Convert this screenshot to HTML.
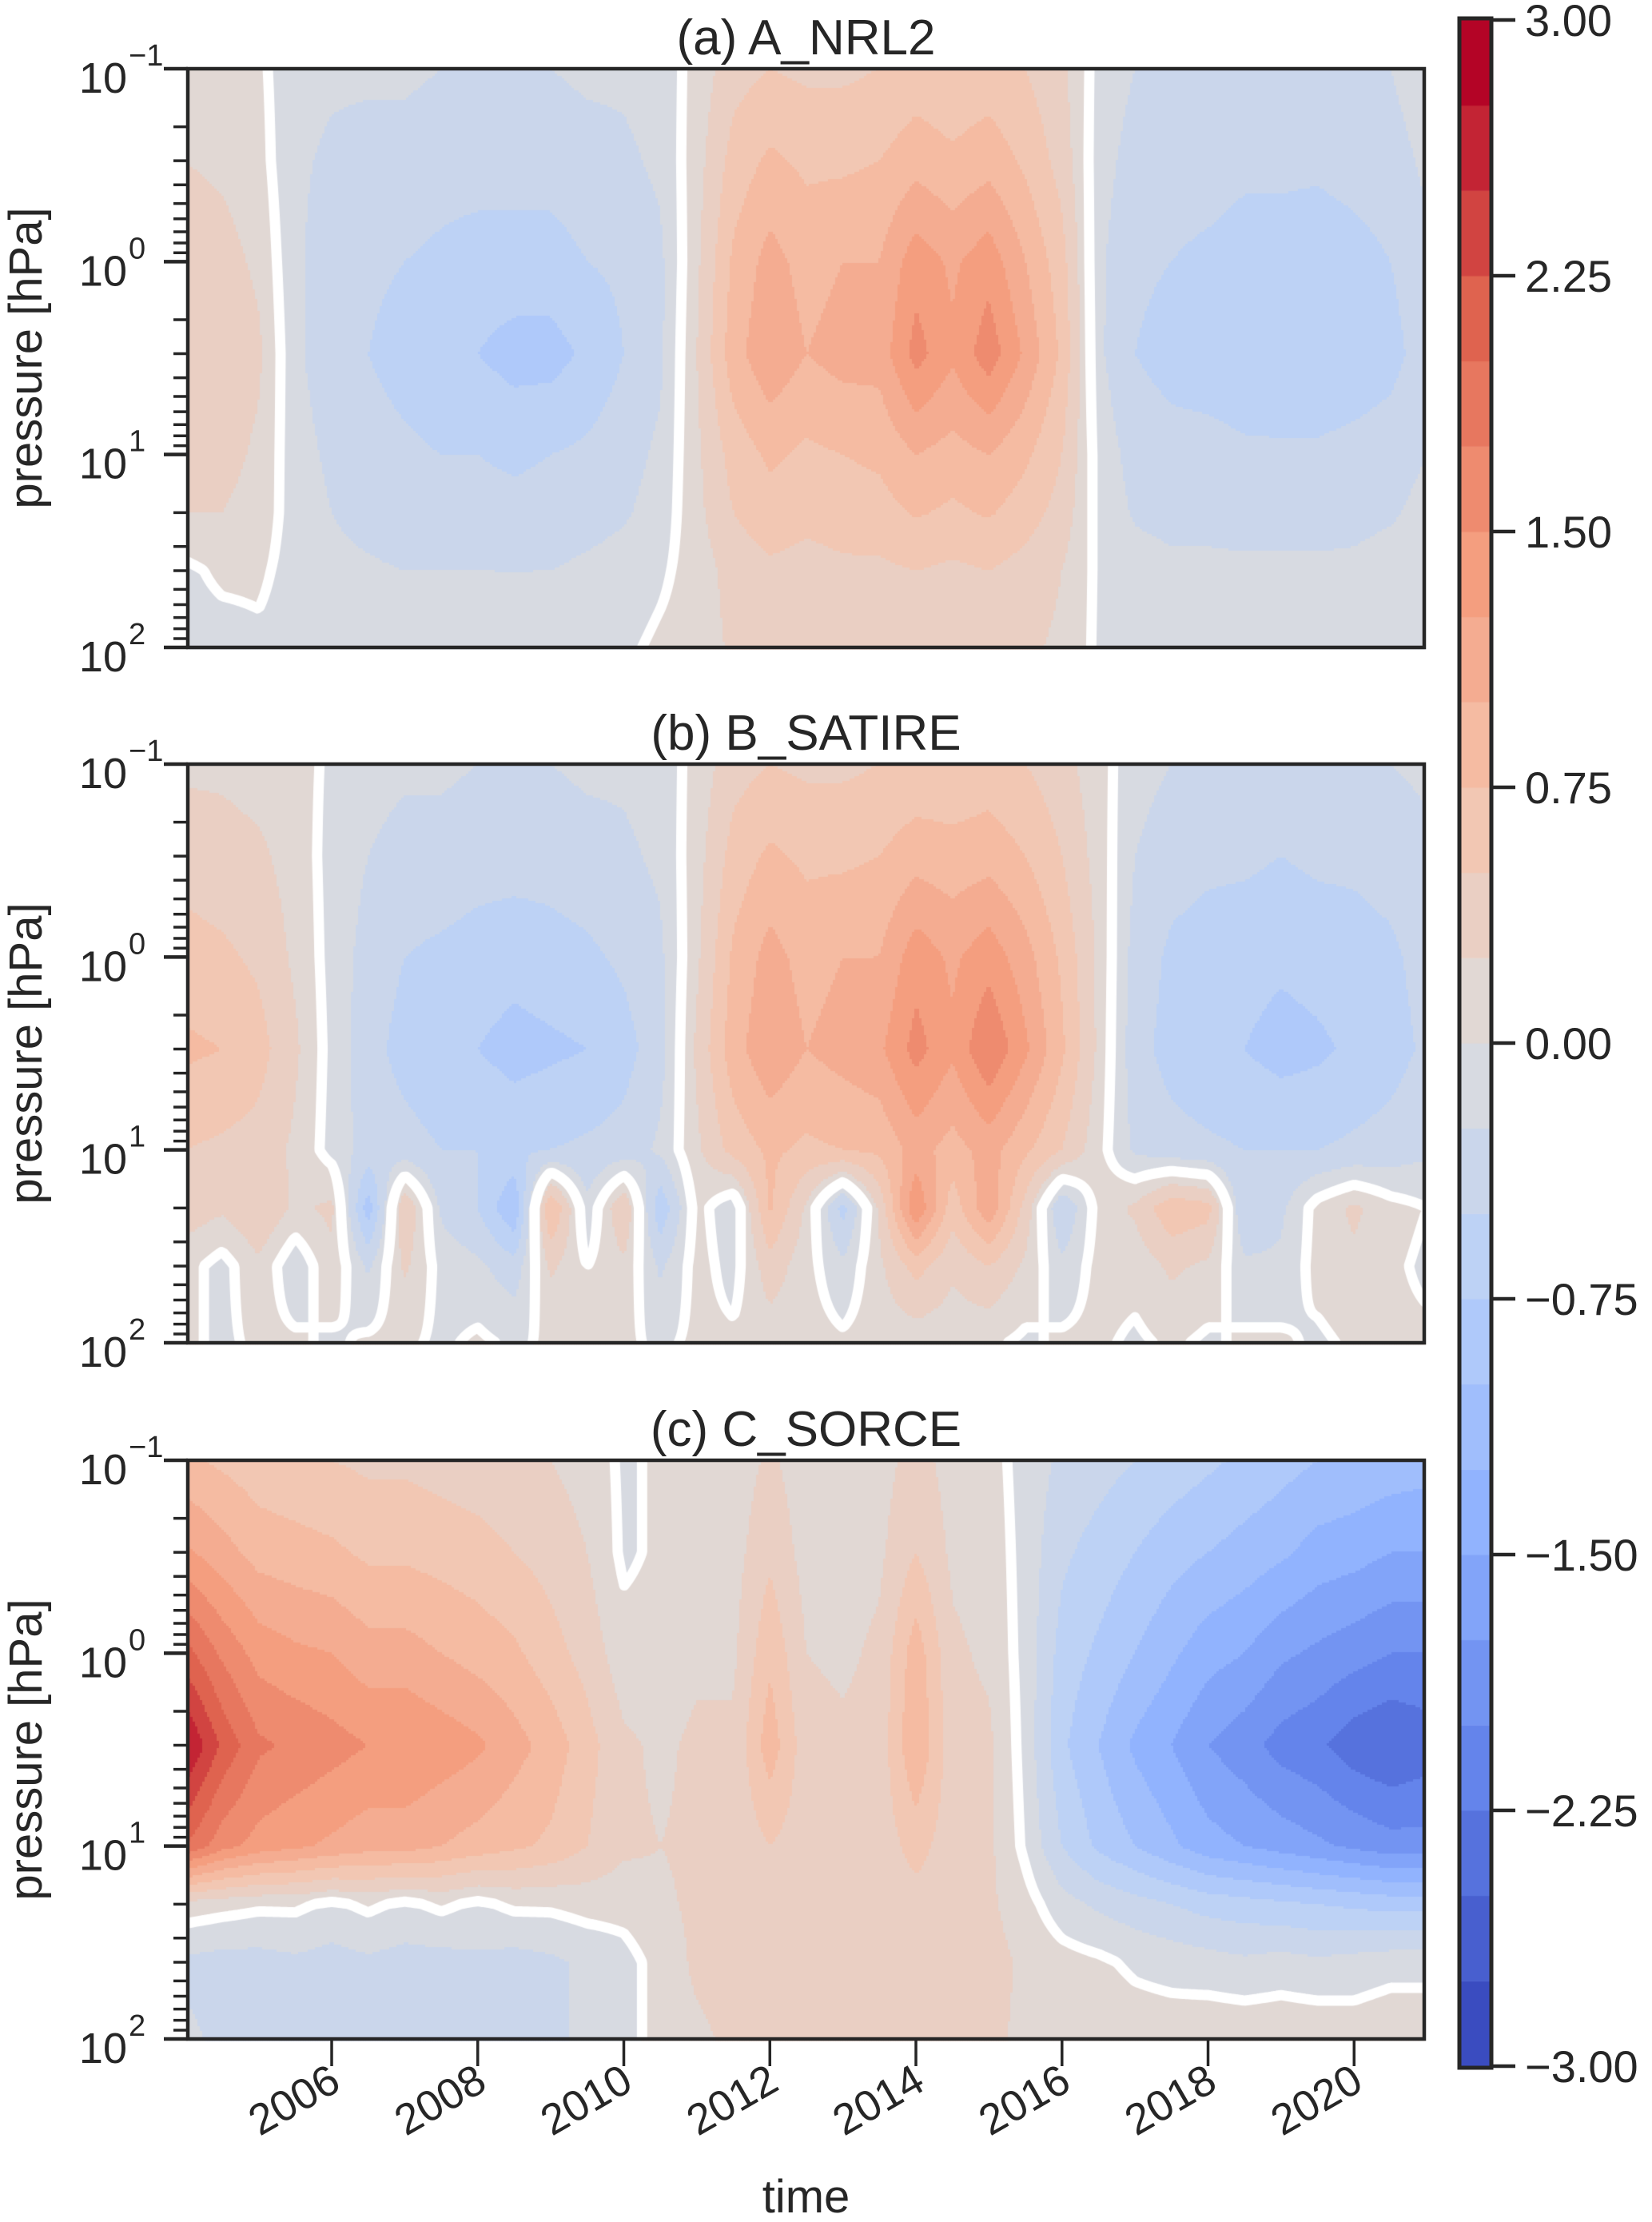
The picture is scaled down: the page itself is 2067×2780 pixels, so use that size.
<!DOCTYPE html>
<html><head><meta charset="utf-8">
<style>
html,body{margin:0;padding:0;background:#fff;}
#root{position:relative;width:2067px;height:2780px;overflow:hidden;font-family:"Liberation Sans",sans-serif;color:#262626;}
canvas{position:absolute;left:0;top:0;}
svg{position:absolute;left:0;top:0;}
</style></head>
<body>
<div id="root">
<canvas id="cv" width="2067" height="2780"></canvas>
<svg id="sv" width="2067" height="2780"></svg>
</div>
<script>
// ---- data ----
const times = [2004.0,2004.5,2005.0,2005.5,2006.0,2006.5,2007.0,2007.5,2008.0,2008.5,2009.0,2009.5,2010.0,2010.5,2011.0,2011.5,2012.0,2012.5,2013.0,2013.5,2014.0,2014.5,2015.0,2015.5,2016.0,2016.5,2017.0,2017.5,2018.0,2018.5,2019.0,2019.5,2020.0,2020.5,2021.0];
const pressures = [0.1,0.3,1,3,10,20,40,100];
const panelTitles = ["(a) A_NRL2","(b) B_SATIRE","(c) C_SORCE"];
const yearTicks = [2006,2008,2010,2012,2014,2016,2018,2020];
const cbarTicks = [3.00,2.25,1.50,0.75,0.00,-0.75,-1.50,-2.25,-3.00];
const levelMin = -3, levelMax = 3, levelStep = 0.25;

const fieldA = [
[0.15,0.12,0.05,-0.15,-0.2,-0.2,-0.2,-0.25,-0.25,-0.25,-0.25,-0.2,-0.2,-0.15,0.1,0.4,0.5,0.45,0.45,0.5,0.6,0.55,0.6,0.5,0.3,-0.1,-0.25,-0.3,-0.3,-0.3,-0.3,-0.3,-0.3,-0.25,-0.1],
[0.25,0.2,0.1,-0.2,-0.3,-0.35,-0.35,-0.4,-0.4,-0.4,-0.4,-0.35,-0.3,-0.2,0.15,0.6,0.8,0.7,0.7,0.75,0.9,0.8,0.9,0.7,0.4,-0.15,-0.35,-0.4,-0.4,-0.45,-0.45,-0.45,-0.4,-0.35,-0.2],
[0.4,0.35,0.2,-0.2,-0.4,-0.45,-0.5,-0.55,-0.6,-0.6,-0.6,-0.5,-0.45,-0.3,0.2,0.8,1.1,0.9,1.0,1.0,1.4,1.2,1.4,1.0,0.6,-0.2,-0.45,-0.5,-0.55,-0.6,-0.6,-0.65,-0.6,-0.5,-0.3],
[0.5,0.45,0.3,-0.2,-0.4,-0.5,-0.6,-0.7,-0.75,-0.85,-0.85,-0.7,-0.5,-0.3,0.25,0.9,1.2,1.0,1.1,1.1,1.6,1.3,1.65,1.2,0.7,-0.2,-0.5,-0.6,-0.65,-0.7,-0.75,-0.75,-0.7,-0.6,-0.35],
[0.4,0.35,0.2,-0.15,-0.3,-0.4,-0.45,-0.5,-0.5,-0.55,-0.5,-0.45,-0.35,-0.2,0.2,0.6,0.8,0.7,0.75,0.8,1.0,0.9,1.0,0.8,0.5,-0.1,-0.35,-0.4,-0.4,-0.45,-0.45,-0.45,-0.4,-0.35,-0.25],
[0.25,0.25,0.15,-0.12,-0.25,-0.32,-0.38,-0.4,-0.4,-0.42,-0.4,-0.35,-0.28,-0.15,0.18,0.5,0.65,0.58,0.62,0.65,0.78,0.7,0.78,0.62,0.4,-0.08,-0.28,-0.32,-0.32,-0.35,-0.35,-0.35,-0.32,-0.28,-0.18],
[-0.05,0.05,0.05,-0.1,-0.2,-0.22,-0.25,-0.25,-0.25,-0.25,-0.25,-0.2,-0.15,-0.05,0.12,0.35,0.45,0.4,0.45,0.45,0.5,0.45,0.5,0.4,0.25,-0.05,-0.15,-0.2,-0.2,-0.2,-0.2,-0.2,-0.2,-0.15,-0.1],
[-0.1,-0.1,-0.05,-0.1,-0.15,-0.15,-0.15,-0.15,-0.15,-0.15,-0.15,-0.1,-0.05,0.05,0.1,0.3,0.35,0.3,0.35,0.35,0.4,0.35,0.35,0.3,0.2,-0.05,-0.1,-0.1,-0.1,-0.1,-0.1,-0.1,-0.1,-0.1,-0.05]
];
const fieldB = [
[0.2,0.2,0.15,0.1,-0.05,-0.15,-0.2,-0.2,-0.25,-0.25,-0.25,-0.2,-0.2,-0.15,0.1,0.4,0.5,0.45,0.45,0.5,0.55,0.55,0.6,0.5,0.35,0.1,-0.15,-0.25,-0.3,-0.3,-0.3,-0.3,-0.3,-0.25,-0.2],
[0.4,0.35,0.3,0.15,-0.1,-0.25,-0.35,-0.35,-0.4,-0.4,-0.4,-0.35,-0.3,-0.2,0.15,0.6,0.8,0.7,0.7,0.75,0.9,0.85,0.9,0.75,0.5,0.15,-0.25,-0.4,-0.45,-0.45,-0.5,-0.45,-0.45,-0.4,-0.3],
[0.6,0.55,0.45,0.2,-0.1,-0.35,-0.5,-0.55,-0.6,-0.65,-0.6,-0.55,-0.45,-0.3,0.2,0.8,1.1,0.9,1.0,1.0,1.4,1.2,1.4,1.1,0.7,0.2,-0.35,-0.55,-0.6,-0.65,-0.7,-0.65,-0.6,-0.55,-0.4],
[0.8,0.75,0.6,0.3,-0.1,-0.4,-0.6,-0.7,-0.75,-0.85,-0.8,-0.75,-0.6,-0.35,0.3,0.9,1.2,1.0,1.1,1.2,1.6,1.3,1.75,1.3,0.8,0.2,-0.4,-0.6,-0.7,-0.75,-0.85,-0.8,-0.7,-0.6,-0.45],
[0.5,0.45,0.4,0.2,-0.1,-0.35,-0.4,-0.5,-0.5,-0.55,-0.5,-0.45,-0.4,-0.2,0.2,0.6,0.8,0.7,0.75,0.8,1.1,0.9,1.1,0.8,0.5,0.1,-0.3,-0.4,-0.45,-0.5,-0.5,-0.5,-0.45,-0.4,-0.3],
[0.4,0.3,0.5,0.2,0.3,-0.9,0.5,-0.3,-0.5,-1.0,0.8,-0.2,0.5,-0.7,0.1,-0.2,0.8,0.2,-0.6,0.3,1.5,0.6,1.2,0.4,-0.5,0.1,0.3,0.7,0.6,-0.5,-0.3,0.1,0.3,0.1,0.0],
[0.1,-0.1,0.2,-0.2,0.2,-0.3,0.3,-0.1,-0.2,-0.4,0.3,0.0,0.2,-0.3,0.1,-0.1,0.4,0.1,-0.2,0.2,0.6,0.3,0.5,0.2,-0.2,0.1,0.1,0.3,0.2,-0.2,-0.2,0.1,0.2,0.05,-0.05],
[0.05,-0.05,0.05,0.05,-0.05,0.05,0.05,-0.05,0.05,-0.05,0.05,0.05,0.05,-0.05,0.05,0.05,0.1,0.1,0.05,0.1,0.1,0.1,0.05,-0.05,0.05,0.05,-0.05,0.05,-0.05,0.05,0.05,-0.05,0.05,0.05,0.05]
];
const fieldC = [
[0.8,0.7,0.6,0.55,0.5,0.45,0.45,0.4,0.35,0.3,0.25,0.15,-0.05,0.05,0.1,0.1,0.3,0.1,0.1,0.15,0.35,0.15,0.1,-0.1,-0.3,-0.4,-0.5,-0.6,-0.7,-0.8,-0.9,-1.0,-1.05,-1.1,-1.15],
[1.3,1.1,0.9,0.85,0.8,0.7,0.7,0.65,0.6,0.5,0.4,0.25,-0.05,0.05,0.15,0.15,0.45,0.15,0.15,0.2,0.5,0.2,0.15,-0.1,-0.45,-0.6,-0.75,-0.9,-1.0,-1.1,-1.2,-1.35,-1.4,-1.5,-1.5],
[2.1,1.7,1.4,1.3,1.25,1.1,1.1,1.0,0.9,0.8,0.6,0.4,0.1,0.1,0.2,0.2,0.7,0.25,0.2,0.3,0.9,0.3,0.2,-0.1,-0.6,-0.8,-1.0,-1.2,-1.4,-1.5,-1.7,-1.8,-1.9,-2.0,-2.0],
[2.8,2.2,1.8,1.7,1.6,1.5,1.5,1.4,1.3,1.1,0.9,0.6,0.3,0.2,0.3,0.3,0.9,0.35,0.3,0.35,1.0,0.35,0.3,-0.1,-0.7,-1.0,-1.3,-1.5,-1.75,-1.9,-2.1,-2.2,-2.4,-2.5,-2.4],
[2.0,1.6,1.4,1.3,1.2,1.1,1.1,1.0,0.9,0.8,0.7,0.5,0.3,0.25,0.3,0.3,0.5,0.35,0.3,0.35,0.6,0.35,0.3,-0.05,-0.5,-0.8,-1.0,-1.2,-1.4,-1.5,-1.6,-1.7,-1.8,-1.9,-1.9],
[0.15,0.1,0.05,0.05,-0.05,0.05,-0.05,0.05,-0.05,0.05,0.05,0.1,0.1,0.2,0.3,0.3,0.4,0.35,0.3,0.35,0.4,0.35,0.3,0.1,-0.15,-0.3,-0.4,-0.5,-0.6,-0.65,-0.7,-0.75,-0.8,-0.85,-0.85],
[-0.3,-0.35,-0.35,-0.3,-0.35,-0.3,-0.35,-0.35,-0.3,-0.35,-0.3,-0.2,-0.1,0.1,0.3,0.35,0.45,0.4,0.4,0.4,0.45,0.4,0.35,0.2,0.1,0.05,-0.05,-0.1,-0.15,-0.2,-0.15,-0.2,-0.15,-0.1,-0.1],
[-0.2,-0.3,-0.3,-0.35,-0.3,-0.35,-0.35,-0.3,-0.3,-0.35,-0.3,-0.2,-0.1,0.1,0.2,0.3,0.3,0.35,0.3,0.35,0.4,0.35,0.3,0.2,0.2,0.2,0.15,0.15,0.2,0.2,0.2,0.2,0.15,0.2,0.2]
];
const fields = [fieldA, fieldB, fieldC];

// ---- layout ----
const L = 235, R = 1782, PH = 724;
const panelTops = [86, 956, 1827];
const T0 = 2004.03, T1 = 2020.96;
const xOf = t => L + (t - T0) / (T1 - T0) * (R - L);
const tOf = x => T0 + (x - L) / (R - L) * (T1 - T0);
const yOf = (top, p) => top + (Math.log10(p) + 1) / 3 * PH;
const CB = {x0:1828, x1:1864, y0:25, y1:2585};
const cbY = v => CB.y0 + (levelMax - v) / (levelMax - levelMin) * (CB.y1 - CB.y0);

const stops = [[0,[58,76,192]],[0.125,[98,130,234]],[0.25,[141,176,254]],[0.375,[184,208,249]],[0.5,[221,220,220]],[0.625,[245,196,173]],[0.75,[244,154,123]],[0.875,[222,96,77]],[1,[180,4,38]]];
function cmap(u){
  for(let i=1;i<stops.length;i++){ if(u<=stops[i][0]){const a=stops[i-1],b=stops[i];const f=(u-a[0])/(b[0]-a[0]);
    return 'rgb('+a[1].map((c,j)=>Math.round(c+(b[1][j]-c)*f)).join(',')+')';}}
  return 'rgb(180,4,38)';
}
const nBins = Math.round((levelMax-levelMin)/levelStep);
const binColor = b => cmap(b/(nBins-1));
const binOf = v => Math.max(0, Math.min(nBins-1, Math.floor((v-levelMin)/levelStep)));

function sample(F, t, lp){
  let fi = (t - times[0])/(times[1]-times[0]); fi = Math.max(0, Math.min(times.length-1.0001, fi));
  const lps = pressures.map(p=>Math.log10(p));
  let r = 0; while(r < lps.length-2 && lp > lps[r+1]) r++;
  let fr = (lp - lps[r])/(lps[r+1]-lps[r]); fr = Math.max(0, Math.min(1, fr));
  const c = Math.floor(fi), fc = fi - c;
  const v0 = F[r][c]*(1-fc) + F[r][c+1]*fc;
  const v1 = F[r+1][c]*(1-fc) + F[r+1][c+1]*fc;
  return v0*(1-fr) + v1*fr;
}

const ctx = document.getElementById('cv').getContext('2d');
const S = 3;
fields.forEach((F, k) => {
  const top = panelTops[k];
  const nx = Math.ceil((R-L)/S), ny = Math.ceil(PH/S);
  const grid = [];
  for(let j=0;j<=ny;j++){ const row=[]; const y = top + j*S; const lp = -1 + (y-top)/PH*3;
    for(let i=0;i<=nx;i++){ row.push(sample(F, tOf(L+i*S), lp)); } grid.push(row); }
  for(let j=0;j<ny;j++) for(let i=0;i<nx;i++){
    const v = (grid[j][i]+grid[j][i+1]+grid[j+1][i]+grid[j+1][i+1])/4;
    ctx.fillStyle = binColor(binOf(v));
    ctx.fillRect(L+i*S, top+j*S, S+0.6, S+0.6);
  }
  ctx.save(); ctx.beginPath(); ctx.rect(L, top, R-L, PH); ctx.clip();
  ctx.strokeStyle = '#fff'; ctx.lineWidth = 13; ctx.lineCap='round'; ctx.lineJoin='round';
  ctx.beginPath();
  const itp = (a,b) => a/(a-b);
  for(let j=0;j<ny;j++) for(let i=0;i<nx;i++){
    const a=grid[j][i], b=grid[j][i+1], c=grid[j+1][i+1], d=grid[j+1][i];
    const pts=[];
    if((a>0)!==(b>0)) pts.push([L+(i+itp(a,b))*S, top+j*S]);
    if((b>0)!==(c>0)) pts.push([L+(i+1)*S, top+(j+itp(b,c))*S]);
    if((d>0)!==(c>0)) pts.push([L+(i+itp(d,c))*S, top+(j+1)*S]);
    if((a>0)!==(d>0)) pts.push([L+i*S, top+(j+itp(a,d))*S]);
    for(let q=0;q+1<pts.length;q+=2){ ctx.moveTo(pts[q][0],pts[q][1]); ctx.lineTo(pts[q+1][0],pts[q+1][1]); }
  }
  ctx.stroke(); ctx.restore();
});
for(let b=0;b<nBins;b++){
  ctx.fillStyle = binColor(b);
  const vlo = levelMin + b*levelStep, vhi = vlo + levelStep;
  ctx.fillRect(CB.x0, cbY(vhi), CB.x1-CB.x0, cbY(vlo)-cbY(vhi)+0.5);
}

// ---- svg overlay ----
const NS='http://www.w3.org/2000/svg';
const sv=document.getElementById('sv');
function el(tag, attrs, parent){ const e=document.createElementNS(NS,tag); for(const k in attrs) e.setAttribute(k,attrs[k]); (parent||sv).appendChild(e); return e; }
const ink='#262626';
panelTops.forEach((top,k)=>{
  const g = el('g',{});
  
  
  const fr = el('rect',{x:L,y:top,width:R-L,height:PH,fill:'none',stroke:ink,'stroke-width':4.5},g);
  
  
  const tt = el('text',{x:(L+R)/2,y:top-18,'font-size':62,'text-anchor':'middle',fill:ink},g);
  tt.textContent = panelTitles[k];
  
  
  for(let e=-1;e<=2;e++){
    const y = yOf(top, Math.pow(10,e));
    el('line',{x1:L-30,x2:L,y1:y,y2:y,stroke:ink,'stroke-width':4.5},g);
    const tl = el('text',{x:L-76,y:y+30,'font-size':54,'text-anchor':'end',fill:ink},g);
    tl.textContent='10';
    
    
    const sp = el('text',{x:L-74,y:y-4,'font-size':38,'text-anchor':'start',fill:ink},g);
    sp.textContent = e===-1?'\u22121':String(e);
    
    
    if(e<2) for(let m=2;m<=9;m++){ const ym=yOf(top,m*Math.pow(10,e)); el('line',{x1:L-18,x2:L,y1:ym,y2:ym,stroke:ink,'stroke-width':3.5},g); }
  }
  const yl = el('text',{x:0,y:0,'font-size':58,'text-anchor':'middle',fill:ink,transform:'translate(52,'+(top+PH/2)+') rotate(-90)'},g);
  yl.textContent='pressure [hPa]';
  
  
});
const bot = panelTops[2]+PH;
yearTicks.forEach(yr=>{
  const x=xOf(yr);
  el('line',{x1:x,x2:x,y1:bot,y2:bot+34,stroke:ink,'stroke-width':3.5});
  const t=el('text',{x:0,y:0,'font-size':54,'text-anchor':'end',fill:ink,transform:'translate('+(x+14)+','+(bot+62)+') rotate(-30)'});
  t.textContent=String(yr);
  
  
});
const xt=el('text',{x:(L+R)/2,y:2768,'font-size':58,'text-anchor':'middle',fill:ink});
xt.textContent='time';


const cbf=el('rect',{x:CB.x0-2,y:CB.y0-2,width:CB.x1-CB.x0+4,height:CB.y1-CB.y0+4,fill:'none',stroke:ink,'stroke-width':5});


cbarTicks.forEach(v=>{
  const y=cbY(v);
  el('line',{x1:CB.x1+2,x2:CB.x1+32,y1:y,y2:y,stroke:ink,'stroke-width':4.5});
  const t=el('text',{x:CB.x1+44,y:y+20,'font-size':56,fill:ink});
  t.textContent=(v<0?'\u2212':'')+Math.abs(v).toFixed(2);
  
  
});
</script>
</body></html>
